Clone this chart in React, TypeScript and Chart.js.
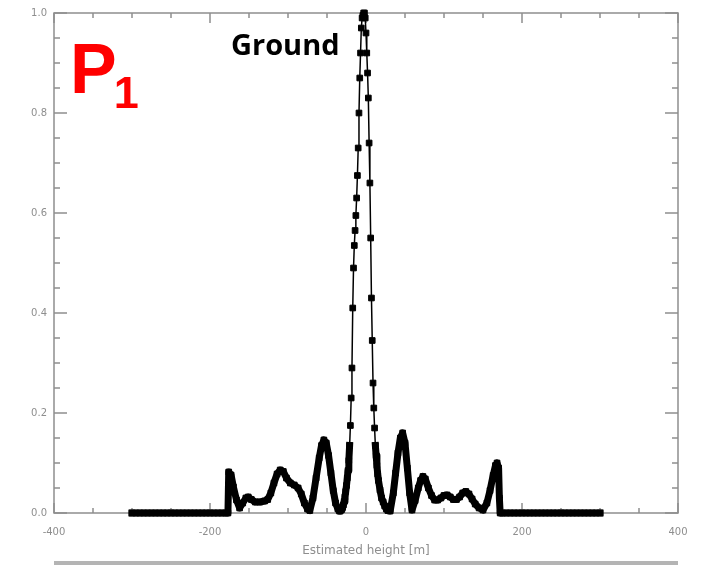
import React, { useEffect, useRef } from "react";
import { Chart, registerables } from "chart.js";

Chart.register(...registerables);

// Estimated height [m]
const heightsM: number[] = [
  -300, -295, -290, -285, -280, -275, -270, -265, -260, -255, -250, -245, -240, -235, -230,
  -225, -220, -215, -210, -205, -200, -195, -190, -185, -180, -177,
  -176, -173, -170, -166, -162, -158, -154, -151, -147, -142, -136, -130, -126, -122,
  -118, -114, -110, -106, -102, -97, -92, -87, -83, -79, -75, -72,
  -68, -64, -60, -57, -54, -51, -48, -45, -42, -39, -36, -34,
  -33, -31, -30, -29, -28, -27, -26, -25, -24, -23, -22, -21, -20, -19, -18, -17, -16,
  -15, -14, -13, -12, -11, -10, -9, -8, -7, -6, -5, -4, -3, -2, -1,
  0, 1, 2, 3, 4, 5, 6, 7, 8, 9, 10, 11, 12, 13, 14, 15, 16, 18, 20, 22, 24, 26, 28, 31,
  35, 38, 41, 44, 47, 50, 53, 56, 59,
  63, 67, 70, 73, 76, 80, 84, 88, 92, 96, 100, 104, 108, 112, 116, 120, 124, 128,
  132, 136, 140, 145, 150, 155, 159, 163, 166, 168, 170, 171, 172,
  175, 180, 185, 190, 195, 200, 205, 210, 215, 220, 225, 230, 235, 240, 245, 250,
  255, 260, 265, 270, 275, 280, 285, 290, 295, 300,
];

// Normalised response
const responseValues: number[] = [
  0, 0, 0, 0, 0, 0, 0, 0, 0, 0, 0, 0, 0, 0, 0,
  0, 0, 0, 0, 0, 0, 0, 0, 0, 0, 0,
  0.082, 0.076, 0.052, 0.026, 0.01, 0.02, 0.03, 0.032, 0.027, 0.022, 0.022, 0.024, 0.027, 0.04,
  0.06, 0.078, 0.086, 0.083, 0.07, 0.06, 0.056, 0.05, 0.038, 0.02, 0.008, 0.005,
  0.03, 0.07, 0.11, 0.135, 0.146, 0.14, 0.115, 0.08, 0.045, 0.02, 0.008, 0.004,
  0.004, 0.007, 0.011, 0.016, 0.023, 0.032, 0.043, 0.055, 0.07, 0.085, 0.105, 0.135, 0.175, 0.23, 0.29, 0.41, 0.49,
  0.535, 0.565, 0.595, 0.63, 0.675, 0.73, 0.8, 0.87, 0.92, 0.97, 0.99, 0.995, 1.0, 1.0, 0.99,
  0.96, 0.92, 0.88, 0.83, 0.74, 0.66, 0.55, 0.43, 0.345, 0.26, 0.21, 0.17, 0.135, 0.115, 0.095, 0.078, 0.065, 0.046, 0.03, 0.022, 0.014, 0.008, 0.005, 0.004,
  0.04, 0.08, 0.12, 0.15, 0.16, 0.14, 0.09, 0.04, 0.006,
  0.025, 0.05, 0.065, 0.073, 0.068, 0.05, 0.035, 0.026, 0.026, 0.03, 0.035, 0.036, 0.032, 0.027, 0.027, 0.032, 0.04, 0.043,
  0.038, 0.028, 0.018, 0.01, 0.006, 0.02, 0.045, 0.075, 0.095, 0.1, 0.09, 0.03, 0,
  0, 0, 0, 0, 0, 0, 0, 0, 0, 0, 0, 0, 0, 0, 0, 0,
  0, 0, 0, 0, 0, 0, 0, 0, 0, 0,
];

const xRange = [-400, 400];
const xMajorStep = 200;
const xMinorStep = 50;
const yRange = [0, 1];
const yMajorStep = 0.2;
const yMinorStep = 0.05;
const xAxisTitle = "Estimated height [m]";
const panelLabel = "P";
const panelSubscript = "1";
const sceneLabel = "Ground";

const AXIS_GREY = "#8e8e8e";

const framePlugin = {
  id: "frameTicks",
  beforeDatasetsDraw(chart: any) {
    const { ctx, chartArea: a, scales } = chart;
    const x = scales.x;
    const y = scales.y;
    ctx.save();
    ctx.strokeStyle = AXIS_GREY;
    ctx.lineWidth = 1.5;
    ctx.strokeRect(a.left, a.top, a.right - a.left, a.bottom - a.top);
    const seg = (x0: number, y0: number, x1: number, y1: number) => {
      ctx.beginPath();
      ctx.moveTo(x0, y0);
      ctx.lineTo(x1, y1);
      ctx.stroke();
    };
    const nx = Math.round((xRange[1] - xRange[0]) / xMinorStep);
    for (let i = 0; i <= nx; i++) {
      const v = xRange[0] + i * xMinorStep;
      const px = x.getPixelForValue(v);
      const major = Math.abs(v % xMajorStep) < 1e-6;
      const len = major ? 10 : 5;
      seg(px, a.bottom, px, a.bottom - len);
      seg(px, a.top, px, a.top + len);
    }
    const ny = Math.round((yRange[1] - yRange[0]) / yMinorStep);
    for (let i = 0; i <= ny; i++) {
      const v = yRange[0] + i * yMinorStep;
      const py = y.getPixelForValue(v);
      const major = i % Math.round(yMajorStep / yMinorStep) === 0;
      const len = major ? 13 : 6;
      seg(a.left, py, a.left + len, py);
      seg(a.right, py, a.right - len, py);
    }
    ctx.restore();
  },
  afterDraw(chart: any) {
    const { ctx, chartArea: a } = chart;
    ctx.save();
    ctx.textBaseline = "alphabetic";
    ctx.textAlign = "left";
    ctx.fillStyle = "#ff0000";
    ctx.font = "bold 70px 'Liberation Sans', Arial, sans-serif";
    ctx.fillText(panelLabel, 70, 93);
    const pw = ctx.measureText(panelLabel).width;
    ctx.font = "bold 45px 'Liberation Sans', Arial, sans-serif";
    ctx.fillText(panelSubscript, 70 + pw - 3, 108);
    ctx.fillStyle = "#000000";
    ctx.font = "bold 29px 'Open Sans', sans-serif";
    ctx.fillText(sceneLabel, 231, 55);
    // top edge of the neighbouring panel below
    ctx.fillStyle = "#b4b4b4";
    ctx.fillRect(a.left, 561, a.right - a.left, 4);
    ctx.restore();
  },
};

export default function App() {
  const canvasRef = useRef<HTMLCanvasElement | null>(null);

  useEffect(() => {
    const canvas = canvasRef.current;
    if (!canvas) return;
    const points = heightsM.map((h, i) => ({ x: h, y: responseValues[i] }));
    const chart = new Chart(canvas, {
      type: "line",
      data: {
        datasets: [
          {
            data: points,
            borderColor: "#000000",
            backgroundColor: "#000000",
            borderWidth: 7,
            borderJoinStyle: "round",
            borderCapStyle: "square",
            pointStyle: "rect",
            pointRadius: 4,
            pointBorderWidth: 1,
            pointBackgroundColor: "#000000",
            pointBorderColor: "#000000",
            tension: 0,
            clip: { left: 20, right: 20, top: 20, bottom: 20 },
            segment: {
              borderWidth: (c: any) =>
                Math.abs(c.p0.parsed.x) < 25 &&
                Math.abs(c.p1.parsed.x) < 25 &&
                c.p0.parsed.y > 0.12 &&
                c.p1.parsed.y > 0.12
                  ? 1.5
                  : 7,
            },
          } as any,
        ],
      },
      options: {
        animation: false,
        responsive: false,
        maintainAspectRatio: false,
        layout: { padding: { top: 13, right: 26, left: 0, bottom: 0 } },
        plugins: {
          legend: { display: false },
          tooltip: { enabled: false },
        },
        scales: {
          x: {
            type: "linear",
            min: xRange[0],
            max: xRange[1],
            grid: { display: false, drawTicks: false },
            border: { display: false },
            ticks: {
              stepSize: xMajorStep,
              color: AXIS_GREY,
              font: { family: "'DejaVu Sans', sans-serif", size: 10 },
              padding: 13,
              maxRotation: 0,
              autoSkip: false,
            },
            title: {
              display: true,
              text: xAxisTitle,
              color: AXIS_GREY,
              font: { family: "'DejaVu Sans', sans-serif", size: 12 },
              padding: { top: 0, bottom: 7 },
            },
            afterFit: (s: any) => {
              s.height = 52;
            },
          },
          y: {
            type: "linear",
            min: yRange[0],
            max: yRange[1],
            grid: { display: false, drawTicks: false },
            border: { display: false },
            ticks: {
              stepSize: yMajorStep,
              color: AXIS_GREY,
              font: { family: "'DejaVu Sans', sans-serif", size: 10 },
              padding: 7,
              callback: (v: any) => Number(v).toFixed(1),
            },
            afterFit: (s: any) => {
              s.width = 54;
            },
          },
        },
      },
      plugins: [framePlugin],
    });
    return () => chart.destroy();
  }, []);

  return (
    <div style={{ position: "fixed", left: 0, top: 0, width: 704, height: 565, background: "#ffffff" }}>
      <canvas ref={canvasRef} width={704} height={565} style={{ display: "block" }} />
    </div>
  );
}
